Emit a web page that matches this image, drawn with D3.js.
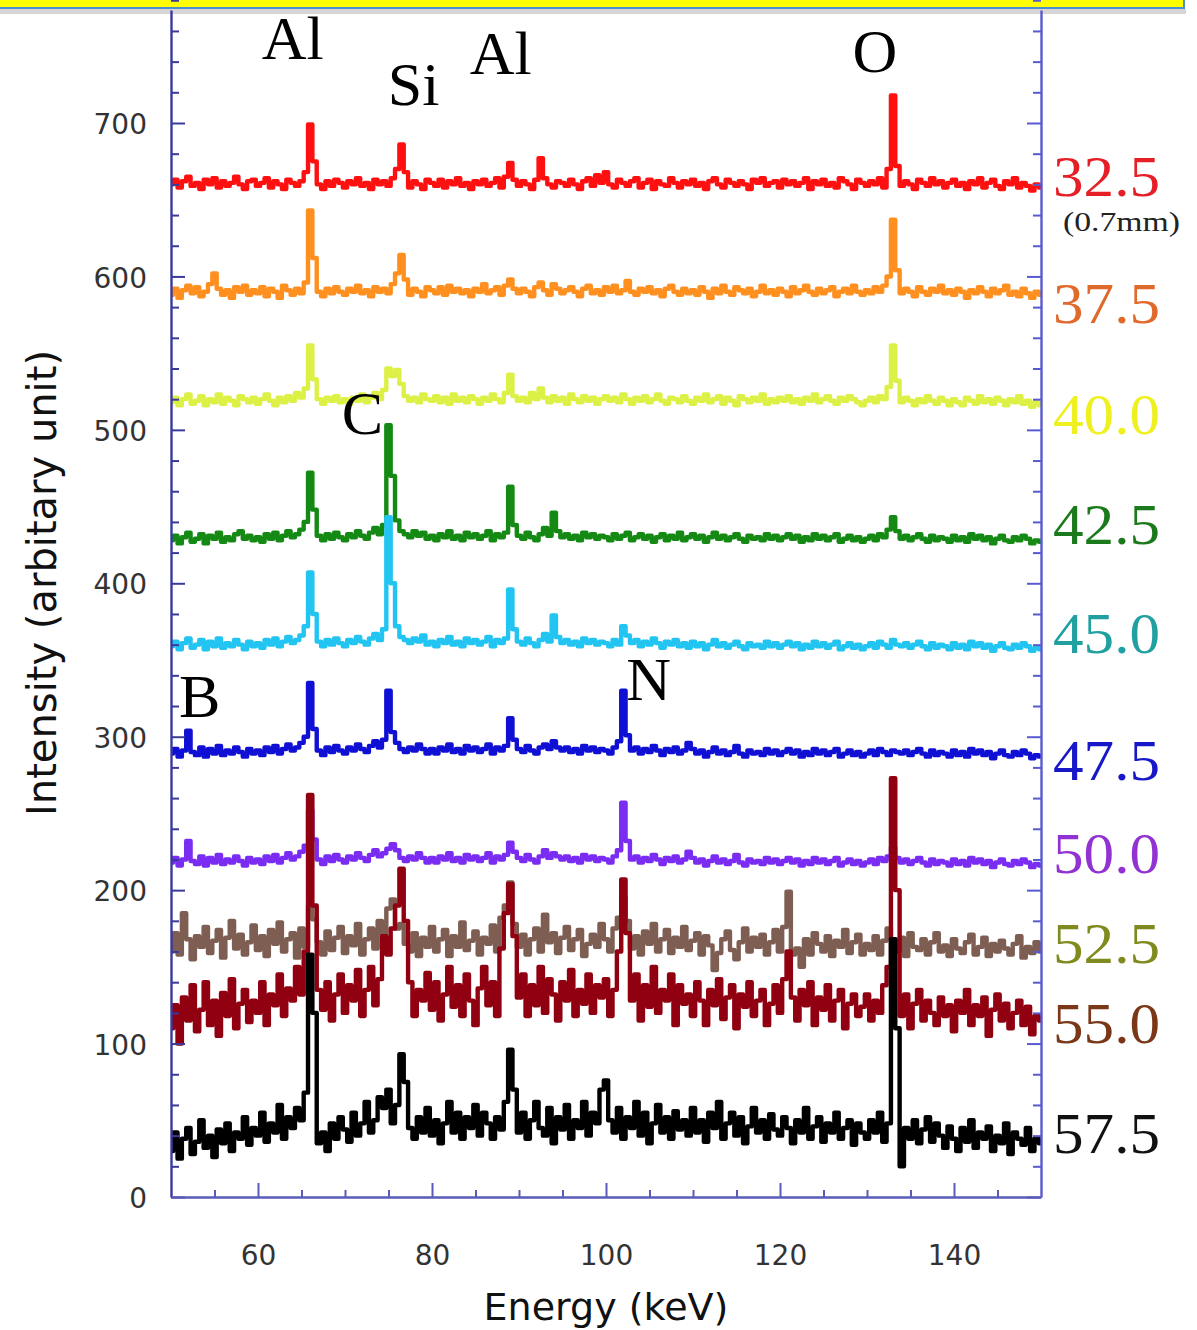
<!DOCTYPE html>
<html><head><meta charset="utf-8">
<script src="https://cdn.jsdelivr.net/npm/d3@7"></script>
<style>body{margin:0;background:#fff;}svg{display:block}</style>
</head><body>
<svg id="chart" width="1197" height="1330"></svg>
<script>
// Spectra sampled from 50 keV in 0.5 keV steps (201 channels each)
const energyStart = 50, energyStep = 0.5;

const s32_5 = [
660,663,658,662,665,659,661,657,663,660,664,658,662,659,661,665,660,657,662,663,
659,661,664,658,662,660,657,663,661,659,662,668,699,675,660,657,662,659,663,661,
658,662,660,664,659,661,657,663,660,662,659,664,670,686,668,658,662,660,657,663,
661,659,663,658,662,660,664,659,661,657,662,660,663,659,661,664,658,665,674,663,
659,662,660,657,663,677,664,660,658,662,661,659,663,660,657,662,664,659,666,661,
668,660,658,663,661,659,662,664,658,661,663,657,662,660,659,664,661,658,662,660,
663,659,661,657,662,664,660,658,663,661,659,662,660,657,663,661,664,659,661,662,
658,663,660,662,659,661,664,657,662,660,663,659,661,658,664,662,660,657,663,661,
659,662,660,664,658,670,718,672,659,662,660,657,663,661,659,664,660,662,658,661,
663,659,661,657,662,660,664,658,661,663,659,657,662,660,664,658,661,659,656,660,
658];
const s37_5 = [
588,592,586,591,594,589,593,587,590,595,602,592,588,591,586,593,590,594,588,591,
589,593,587,592,590,586,594,591,588,592,589,596,643,612,590,587,592,589,593,590,
588,592,590,594,589,591,587,593,590,592,589,595,602,614,598,588,592,590,587,593,
591,589,593,588,594,590,592,589,591,587,592,590,595,589,591,593,588,594,598,592,
589,592,590,587,593,596,591,588,595,592,589,591,593,590,587,592,594,589,591,588,
593,590,594,589,591,597,590,588,592,590,593,589,591,587,592,594,590,588,592,589,
591,588,593,590,586,592,589,594,590,588,593,591,589,592,587,590,594,589,591,588,
592,590,587,593,589,591,594,590,588,592,589,591,593,587,590,592,589,594,590,588,
591,589,593,590,594,600,637,604,589,592,590,587,593,590,588,592,590,594,589,591,
588,592,590,586,591,589,593,590,587,592,589,591,594,588,590,587,592,589,586,590,
588];
const s40_0 = [
518,521,516,520,523,517,519,522,516,520,518,523,517,521,519,516,522,520,518,521,
517,520,523,519,516,521,518,522,519,524,521,527,555,533,520,517,521,519,522,518,
520,517,521,519,523,518,521,524,520,526,540,535,539,530,522,519,521,518,523,520,
519,522,518,521,517,523,519,521,518,522,520,517,521,519,523,520,518,524,536,522,
519,521,518,524,520,527,521,518,522,519,521,517,523,520,518,522,519,521,517,520,
522,519,521,518,523,520,517,521,519,522,518,520,523,519,517,521,520,518,522,519,
517,521,519,523,518,520,522,517,521,519,516,522,520,518,521,519,523,517,520,518,
521,519,522,518,520,517,521,519,523,518,520,522,519,517,521,519,522,520,518,516,
519,521,518,522,520,528,555,532,518,521,519,516,520,518,522,519,517,521,519,516,
520,518,516,521,519,517,522,518,520,517,521,519,516,520,518,522,517,519,515,518,
516];
const s42_5 = [
428,431,426,430,433,427,429,432,426,431,429,433,427,430,428,432,434,429,431,428,
430,427,432,429,433,428,431,434,430,432,435,440,472,448,431,428,432,429,433,430,
428,432,430,434,431,429,433,436,432,438,503,470,441,434,432,430,434,431,433,429,
431,428,432,430,434,429,431,428,433,430,432,429,431,434,428,432,430,433,463,438,
431,429,433,430,428,432,436,431,446,434,430,432,429,431,428,433,430,432,429,431,
430,428,432,429,431,433,428,430,432,429,431,427,430,432,428,431,429,433,428,430,
432,429,431,427,430,433,429,431,428,430,432,429,427,431,429,430,428,432,429,431,
428,430,432,429,431,427,430,428,432,429,431,428,430,432,427,429,431,428,430,427,
429,431,428,432,430,435,443,434,429,431,428,430,432,429,427,431,428,430,429,427,
431,428,430,427,432,429,431,428,430,426,429,431,428,427,430,428,431,429,426,428,
427];
const s45_0 = [
359,362,357,361,364,358,360,363,357,362,359,364,358,361,359,363,360,357,362,359,
361,358,363,360,364,359,362,365,361,363,366,372,407,380,362,359,363,360,364,361,
359,363,361,365,362,360,364,367,363,370,443,400,372,365,363,361,364,362,366,360,
362,359,363,361,365,360,362,359,364,361,363,360,362,365,359,363,361,364,396,370,
362,360,364,361,359,363,367,362,379,365,361,363,360,362,359,364,361,363,360,362,
361,359,363,360,372,366,361,363,359,362,360,364,361,358,362,360,363,359,361,358,
362,359,361,357,360,363,359,361,358,360,362,359,357,361,359,360,358,362,359,361,
358,360,362,359,361,357,360,358,362,359,361,358,360,362,357,359,361,358,360,357,
359,361,358,362,360,358,363,360,359,361,358,360,362,359,357,361,358,360,359,357,
361,358,360,357,362,359,361,358,360,356,359,361,358,357,360,358,361,359,356,358,
357];
const s47_5 = [
289,292,287,291,304,290,288,293,287,292,289,294,288,291,289,293,290,287,292,289,
291,288,293,290,294,289,292,295,291,293,296,300,335,305,291,288,293,290,294,291,
289,293,291,295,292,290,294,297,293,298,330,303,296,292,290,293,291,295,292,289,
292,289,293,291,295,290,292,289,294,291,293,290,292,295,289,293,291,294,312,298,
292,290,294,291,289,293,295,292,297,293,291,293,290,292,289,294,291,293,290,292,
291,289,293,297,330,301,291,293,289,292,290,294,291,288,292,290,293,289,291,296,
292,289,291,287,290,293,289,291,288,290,294,289,287,291,289,290,288,292,289,291,
288,290,292,289,291,287,290,288,292,289,291,288,290,292,287,289,291,288,290,287,
289,291,288,292,290,288,291,290,289,291,288,290,292,289,287,291,288,290,289,287,
291,288,290,287,292,289,291,288,290,286,289,291,288,287,290,288,291,289,286,288,
287];
const s50_0 = [
218,221,216,220,232,219,217,222,216,221,218,223,217,220,218,222,219,216,221,218,
220,217,222,219,223,218,221,224,220,222,225,229,252,233,220,217,222,219,223,220,
218,222,220,224,221,219,223,226,222,224,227,230,226,221,219,222,220,224,221,218,
221,218,222,220,224,219,221,218,223,220,222,219,221,224,218,222,220,223,231,225,
221,219,223,220,218,222,226,221,224,222,220,222,219,221,218,223,220,222,219,221,
220,218,222,226,257,232,220,222,218,221,219,223,220,217,221,219,222,218,220,225,
221,218,220,216,219,222,218,220,217,219,223,218,216,220,218,219,217,221,218,220,
217,219,221,218,220,216,219,217,221,218,220,217,219,221,216,218,220,217,219,216,
218,220,217,221,219,222,228,221,218,220,217,219,221,218,216,220,217,219,218,216,
220,217,219,216,221,218,220,217,219,215,218,220,217,216,219,217,220,218,215,217,
216];
const s52_5 = [
160,172,158,185,168,155,170,163,176,159,167,174,156,169,180,162,171,158,166,177,
161,170,157,174,165,179,160,168,172,156,175,163,190,181,166,158,173,161,169,176,
159,170,164,178,158,168,175,162,180,171,188,194,175,178,165,160,172,157,169,163,
176,160,168,174,157,170,163,179,161,167,173,158,169,165,177,160,182,190,205,178,
163,171,158,168,175,160,184,166,172,159,169,176,161,168,174,157,165,171,163,178,
168,160,175,182,195,180,162,170,158,173,165,178,160,168,174,159,169,163,176,161,
167,172,158,170,164,148,159,168,173,161,155,166,175,160,169,163,171,158,166,174,
160,176,199,158,162,150,168,158,172,165,160,170,157,167,163,174,159,166,171,158,
165,161,170,158,167,175,168,160,169,157,172,163,161,168,158,166,172,160,164,157,
168,162,159,166,171,158,163,169,157,165,160,167,162,158,165,170,156,163,159,166,
160];
const s55_0 = [
110,125,100,130,115,138,108,122,140,112,128,105,133,118,142,110,126,135,114,128,
120,140,112,132,125,145,118,136,128,150,132,160,262,190,135,122,140,115,132,145,
120,138,128,148,118,135,150,125,142,170,158,175,190,214,180,140,118,135,128,146,
122,140,115,132,150,124,138,118,145,128,112,136,150,125,140,118,162,185,204,170,
130,145,118,138,125,150,120,142,132,115,140,128,148,118,135,126,145,120,138,130,
142,118,135,160,207,172,128,145,115,138,124,150,120,135,128,145,112,138,126,132,
118,140,128,112,135,125,142,116,130,138,110,132,124,140,118,128,135,112,126,138,
120,142,160,130,115,135,125,140,112,130,122,138,115,128,135,110,126,132,118,124,
132,115,128,120,138,150,273,200,118,132,110,126,135,115,128,120,112,130,118,125,
108,128,120,135,112,125,118,130,105,122,132,115,126,110,120,128,112,124,106,118,
115];
const s57_5 = [
30,42,25,38,45,28,36,50,32,40,26,44,35,48,30,42,38,52,34,45,
40,55,36,48,42,60,38,52,45,58,50,68,158,120,35,42,30,48,38,52,
44,36,55,40,48,62,42,50,65,58,70,48,60,93,75,45,38,52,42,58,
40,50,35,48,62,42,55,38,52,45,60,40,55,48,38,52,44,62,96,70,
42,55,38,50,62,45,40,58,35,52,44,60,38,50,45,62,40,55,48,70,
76,50,42,58,38,52,45,62,40,55,35,48,60,42,52,38,56,44,50,40,
58,42,50,36,55,45,62,38,48,55,40,52,35,46,58,42,50,38,54,44,
40,52,45,35,50,42,58,38,46,52,36,48,42,55,38,45,50,34,48,42,
38,50,42,55,36,48,168,110,20,45,38,50,35,44,52,36,48,40,32,46,
38,30,45,36,50,32,42,38,46,30,40,35,48,28,42,38,34,45,30,38,
35];

const seriesValues = [s32_5, s37_5, s40_0, s42_5, s45_0, s47_5, s50_0, s52_5, s55_0, s57_5];
const seriesLabels = ["32.5","37.5","40.0","42.5","45.0","47.5","50.0","52.5","55.0","57.5"];
const lineColors  = ["#ff1010","#ff9020","#dcf046","#148a14","#22c4f2","#1010d4","#7a2cf2","#7e5e52","#900010","#000000"];
const labelColors = ["#e61e26","#e0692c","#eef020","#1b7a1b","#20a0a0","#1818c8","#9232d2","#808a1e","#7a3818","#111111"];
// label baseline positions in data units (intensity)
const labelLevels = [652.5, 569.8, 497.5, 425.9, 354.3, 271.5, 211.0, 152.4, 100.3, 28.6];

const peakNames  = ["Al","Si","Al","O","C","B","N"];
const peakEnergy = [64.0, 77.9, 87.9, 130.9, 72.0, 53.3, 104.9];
const peakLevel  = [742, 712, 732, 733, 497, 313, 324];

const xMajorTicks = [60,80,100,120,140];
const yMajorTicks = [0,100,200,300,400,500,600,700];

(function(){
const svg = d3.select("#chart");
const pLeft = 171, pRight = 1041, pBottom = 1197, pTop = 10;
const x = d3.scaleLinear().domain([50,150]).range([pLeft,pRight]);
const y = d3.scaleLinear().domain([0,700]).range([pBottom,123]);
const axisColor = "#3a3a9c";

// banner
svg.append("rect").attr("x",0).attr("y",9).attr("width",1186).attr("height",5).attr("fill","#d6d6d6");
svg.append("rect").attr("x",-2).attr("y",-2).attr("width",1186).attr("height",10)
  .attr("fill","#ffff00").attr("stroke","#4f8fcf").attr("stroke-width",2);

// lines
const line = d3.line()
  .x((d,i)=>x(energyStart + i*energyStep))
  .y(d=>y(d))
  .curve(d3.curveStep);
const g = svg.append("g");
seriesValues.forEach((vals,k)=>{
  g.append("path").datum(vals).attr("d",line)
   .attr("fill","none").attr("stroke",lineColors[k])
   .attr("stroke-width",4.4).attr("stroke-linejoin","round");
});

// axes
const yMinor = d3.range(0,781,20).filter(v=>v%100!==0);
const xMinor = d3.range(55,150,5).filter(v=>v%20!==0);
const yTopVal = y.invert(pTop);
const yAll = y.copy().domain([0,yTopVal]).range([pBottom,pTop]);

function styleAxis(sel){
  sel.selectAll("path,line").attr("stroke",axisColor).attr("stroke-width",2);
  sel.select(".domain").attr("stroke-width",2.4);
}
// left
const gl = svg.append("g").attr("transform",`translate(${pLeft},0)`)
  .call(d3.axisLeft(yAll).tickValues(yMajorTicks).tickSize(-14).tickSizeOuter(0));
gl.call(styleAxis);
gl.selectAll("text").attr("font-family","DejaVu Sans").attr("font-size",28).attr("fill","#333")
  .attr("x",-24).attr("dy","0.38em");
svg.append("g").attr("transform",`translate(${pLeft},0)`)
  .call(d3.axisLeft(yAll).tickValues(yMinor).tickSize(-8).tickFormat("").tickSizeOuter(0))
  .call(styleAxis).call(s=>s.select(".domain").remove());
// right
const gr = svg.append("g").attr("transform",`translate(${pRight},0)`)
  .call(d3.axisRight(yAll).tickValues(yMajorTicks).tickSize(-14).tickFormat("").tickSizeOuter(0));
gr.call(styleAxis);
gr.selectAll("path,line").attr("stroke","#5a5ad0");
svg.append("g").attr("transform",`translate(${pRight},0)`)
  .call(d3.axisRight(yAll).tickValues(yMinor).tickSize(-8).tickFormat("").tickSizeOuter(0))
  .call(styleAxis).call(s=>s.select(".domain").remove()).selectAll("line").attr("stroke","#5a5ad0");
// bottom
const gb = svg.append("g").attr("transform",`translate(0,${pBottom})`)
  .call(d3.axisBottom(x).tickValues(xMajorTicks).tickSize(-14).tickSizeOuter(0));
gb.call(styleAxis);
gb.selectAll("path,line").attr("stroke","#5a5ab8");
gb.selectAll("text").attr("font-family","DejaVu Sans").attr("font-size",28).attr("fill","#333")
  .attr("y",48);
svg.append("g").attr("transform",`translate(0,${pBottom})`)
  .call(d3.axisBottom(x).tickValues(xMinor).tickSize(-7).tickFormat("").tickSizeOuter(0))
  .call(styleAxis).call(s=>s.select(".domain").remove()).selectAll("line").attr("stroke","#5a5ab8");

// axis titles
svg.append("text").attr("x",(pLeft+pRight)/2).attr("y",1320).attr("text-anchor","middle")
  .attr("font-family","DejaVu Sans").attr("font-size",38).attr("fill","#111").text("Energy (keV)");
svg.append("text").attr("transform",`translate(56,583) rotate(-90)`).attr("text-anchor","middle")
  .attr("font-family","DejaVu Sans").attr("font-size",40).attr("fill","#111").text("Intensity (arbitary unit)");

// series labels
seriesLabels.forEach((t,k)=>{
  svg.append("text").attr("x",pRight+12).attr("y",y(labelLevels[k]))
    .attr("font-family","Liberation Serif").attr("font-size",58)
    .attr("textLength",107).attr("lengthAdjust","spacingAndGlyphs")
    .attr("fill",labelColors[k]).text(t);
});
svg.append("text").attr("x",1063).attr("y",231)
  .attr("font-family","Liberation Serif").attr("font-size",28)
  .attr("textLength",117).attr("lengthAdjust","spacingAndGlyphs")
  .attr("fill","#222").text("(0.7mm)");

// element labels
peakNames.forEach((t,k)=>{
  svg.append("text").attr("x",x(peakEnergy[k])).attr("y",y(peakLevel[k]))
    .attr("text-anchor","middle").attr("font-family","Liberation Serif").attr("font-size",62)
    .attr("fill","#000").text(t);
});
})();
</script>
</body></html>
